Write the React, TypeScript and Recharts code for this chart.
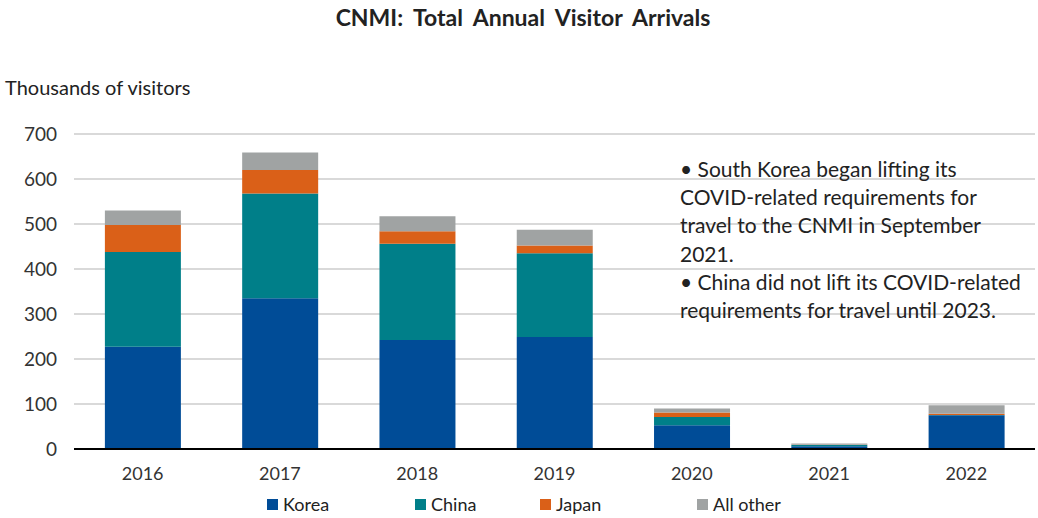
import React from 'react';
import { BarChart, Bar, XAxis, YAxis, CartesianGrid } from 'recharts';

const years = ['2016', '2017', '2018', '2019', '2020', '2021', '2022'];
const korea = [227, 335, 242, 249, 53, 6, 75];
const china = [211, 233, 214, 186, 18, 3, 0.5];
const japan = [60, 52, 28, 17, 10, 0.5, 3];
const allOther = [32, 39, 33, 35, 9, 3, 19];
const yTicks = [0, 100, 200, 300, 400, 500, 600, 700];

const SERIES = [
  { key: 'korea', label: 'Korea', color: '#004C97' },
  { key: 'china', label: 'China', color: '#007F89' },
  { key: 'japan', label: 'Japan', color: '#DA6018' },
  { key: 'other', label: 'All other', color: '#A0A3A3' },
];

const notes = [
  '• South Korea began lifting its',
  'COVID-related requirements for',
  'travel to the CNMI in September',
  '2021.',
  '• China did not lift its COVID-related',
  'requirements for travel until 2023.',
];

const data = years.map((year, i) => ({
  year,
  korea: korea[i],
  china: china[i],
  japan: japan[i],
  other: allOther[i],
}));

const FONT = 'Lato, "Open Sans", sans-serif';

export default function App() {
  return (
    <div style={{ position: 'absolute', left: 0, top: 0, width: 1038, height: 518, background: '#fff', fontFamily: FONT, color: '#222' }}>
      <div style={{ position: 'absolute', top: 3, left: 0, width: 1046, textAlign: 'center', fontSize: 23, fontWeight: 700, wordSpacing: 5 }}>
        CNMI: Total Annual Visitor Arrivals
      </div>
      <div style={{ position: 'absolute', top: 75, left: 5, fontSize: 20 }}>Thousands of visitors</div>

      <BarChart
        width={1038}
        height={518}
        data={data}
        margin={{ top: 134, right: 3, bottom: 0, left: 0 }}
        barCategoryGap="22.5%"
      >
        <CartesianGrid vertical={false} stroke="#D9D9D9" strokeWidth={2} />
        <XAxis
          dataKey="year"
          height={69}
          axisLine={{ stroke: '#000', strokeWidth: 2 }}
          tickLine={false}
          tickMargin={12}
          tick={{ fill: '#333', fontSize: 18, fontFamily: FONT }}
        />
        <YAxis
          width={74}
          domain={[0, 700]}
          ticks={yTicks}
          axisLine={false}
          tickLine={false}
          tickSize={0}
          tickMargin={17}
          tick={{ fill: '#333', fontSize: 19, fontFamily: FONT }}
        />
        {SERIES.map((s) => (
          <Bar key={s.key} dataKey={s.key} stackId="a" fill={s.color} isAnimationActive={false} />
        ))}
      </BarChart>

      <div style={{ position: 'absolute', top: 155, left: 680, fontSize: 21, lineHeight: '28.2px', whiteSpace: 'pre' }}>
        {notes.map((n) => (
          <div key={n}>{n}</div>
        ))}
      </div>

      <div style={{ position: 'absolute', top: 493, left: 0, width: 1038, height: 22, fontSize: 18 }}>
        {SERIES.map((s, i) => (
          <div key={s.key} style={{ position: 'absolute', left: [267, 415, 540, 697][i], top: 0, display: 'flex', alignItems: 'center' }}>
            <span style={{ display: 'inline-block', width: 11, height: 11, background: s.color, marginRight: 5 }} />
            <span>{s.label}</span>
          </div>
        ))}
      </div>
    </div>
  );
}
